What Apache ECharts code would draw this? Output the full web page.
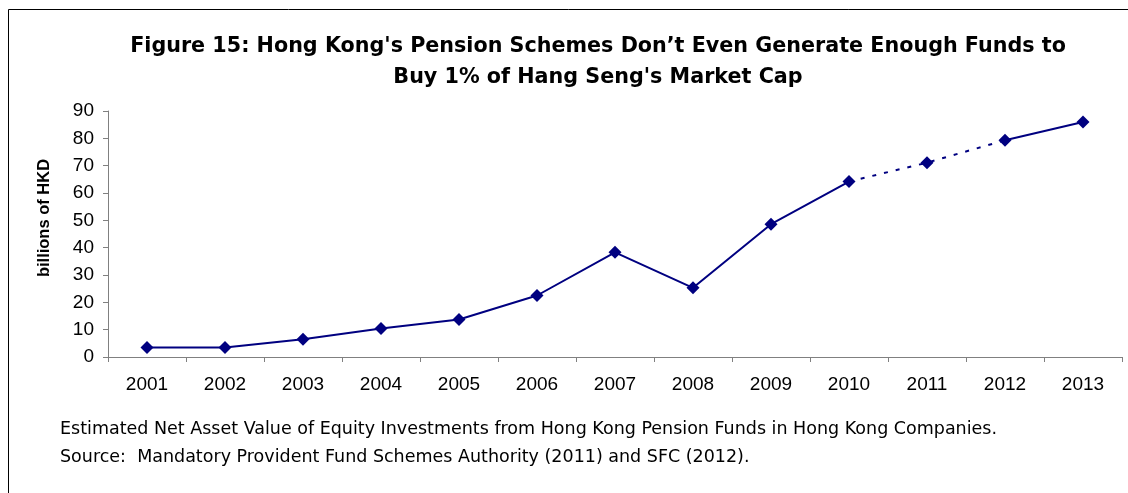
<!DOCTYPE html>
<html>
<head>
<meta charset="utf-8">
<script src="https://cdn.jsdelivr.net/npm/echarts@6/dist/echarts.min.js"></script>
<style>
  html, body { margin: 0; padding: 0; background: #fff; }
  #chart { width: 1128px; height: 493px; }
</style>
</head>
<body>
<div id="chart"></div>
<script>
// data
const years = ['2001', '2002', '2003', '2004', '2005', '2006', '2007', '2008', '2009', '2010', '2011', '2012', '2013'];
const navValues = [3.5, 3.5, 6.5, 10.4, 13.7, 22.5, 38.3, 25.3, 48.6, 64.2, 71.1, 79.3, 86.0];
// 2010 -> 2012 is drawn dashed (estimates)
const dashedFrom = 9;
const dashedTo = 11;

const titleText = "Figure 15: Hong Kong's Pension Schemes Don\u2019t Even Generate Enough Funds to\nBuy 1% of Hang Seng's Market Cap";
const yName = 'billions of HKD';
const noteLines = [
    'Estimated Net Asset Value of Equity Investments from Hong Kong Pension Funds in Hong Kong Companies.',
    'Source:  Mandatory Provident Fund Schemes Authority (2011) and SFC (2012).'
];

const navy = '#000080';
const axisGray = '#808080';
const arial = 'Liberation Sans, Arial, sans-serif';
const wide = 'DejaVu Sans, Verdana, sans-serif';

// split the line into solid / dashed / solid pieces
const solidA = navValues.map((v, i) => i <= dashedFrom ? v : null);
const dashed = navValues.map((v, i) => i >= dashedFrom && i <= dashedTo ? v : null);
const solidB = navValues.map((v, i) => i >= dashedTo ? v : null);

function lineSeries(data, type) {
    return {
        type: 'line',
        data: data,
        symbol: 'none',
        silent: true,
        lineStyle: { color: navy, width: 2, type: type },
        z: 2
    };
}

const chart = echarts.init(document.getElementById('chart'));
chart.setOption({
    animation: false,
    backgroundColor: '#fff',
    title: {
        text: titleText,
        left: 593,
        top: 26,
        textAlign: 'center',
        textStyle: { fontFamily: wide, fontSize: 20.7, fontWeight: 'bold', color: '#000', lineHeight: 31 }
    },
    grid: { left: 108, right: 6, top: 111, bottom: 136, containLabel: false },
    xAxis: {
        type: 'category',
        data: years,
        boundaryGap: true,
        axisLine: { lineStyle: { color: axisGray, width: 1 } },
        axisTick: { show: true, length: 5, lineStyle: { color: axisGray } },
        axisLabel: { fontFamily: arial, fontSize: 19, color: '#000', margin: 18 },
        splitLine: { show: false }
    },
    yAxis: {
        type: 'value',
        min: 0,
        max: 90,
        interval: 10,
        axisLine: { show: true, lineStyle: { color: axisGray, width: 1 } },
        axisTick: { show: true, length: 5, lineStyle: { color: axisGray } },
        axisLabel: { fontFamily: arial, fontSize: 19, color: '#000', margin: 14 },
        splitLine: { show: false }
    },
    series: [
        lineSeries(solidA, 'solid'),
        lineSeries(dashed, [4, 8]),
        lineSeries(solidB, 'solid'),
        {
            type: 'line',
            data: navValues,
            symbol: 'diamond',
            symbolSize: 13,
            itemStyle: { color: navy },
            lineStyle: { width: 0 },
            z: 3
        }
    ],
    graphic: [
        {
            type: 'rect',
            shape: { x: 8.5, y: 9.5, width: 1200, height: 600 },
            style: { fill: 'none', stroke: '#000', lineWidth: 1 },
            silent: true,
            z: -1
        },
        {
            type: 'text',
            x: 44,
            y: 218,
            rotation: Math.PI / 2,
            style: {
                text: yName, font: 'bold 16.5px ' + arial, fill: '#000',
                align: 'center', verticalAlign: 'middle'
            }
        },
        {
            type: 'text',
            x: 60,
            y: 429.5,
            style: { text: noteLines[0], font: '17.5px ' + wide, fill: '#000', verticalAlign: 'middle' }
        },
        {
            type: 'text',
            x: 60,
            y: 457.5,
            style: { text: noteLines[1], font: '17.5px ' + wide, fill: '#000', verticalAlign: 'middle' }
        }
    ]
});
</script>
</body>
</html>
